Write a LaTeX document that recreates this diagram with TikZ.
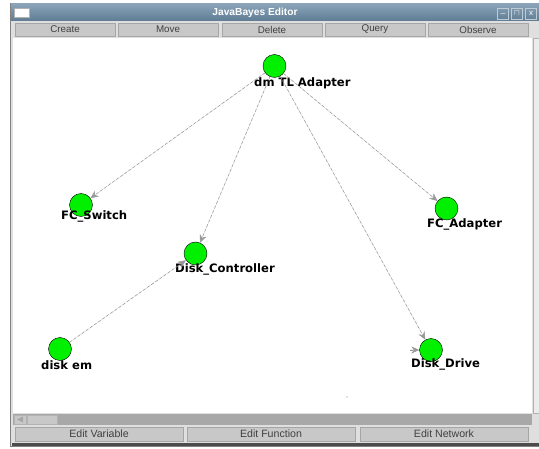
\documentclass[tikz,border=0pt]{standalone}
\usepackage{fontspec}
\setmainfont{DejaVu Sans}
\newfontfamily\guifont{Liberation Sans}
\usetikzlibrary{arrows.meta}
\definecolor{nodegreen}{HTML}{00F000}
\definecolor{titletop}{HTML}{8AA3B8}
\definecolor{titlebot}{HTML}{5E7C94}
\definecolor{btngray}{HTML}{C8C8C8}
\definecolor{bargray}{HTML}{A8A8A8}

\begin{document}
\begin{tikzpicture}[>=Stealth,x={(1pt,0pt)},y={(0pt,-1pt)},
  var/.style={circle,draw=black,fill=nodegreen,minimum size=23pt,inner sep=0pt,line width=0.4pt},
  varname/.style={anchor=west,inner sep=0pt,font=\bfseries\fontsize{11.6}{12}\selectfont},
  edge/.style={draw=gray!80,line width=0.5pt,densely dashed,-{Stealth[length=8pt,width=7pt]},fill=gray!80},
  btn/.style={draw=gray!70,fill=btngray,minimum height=13pt,inner sep=0pt,text=black!75,font=\guifont\fontsize{9.8}{10}\selectfont},
  winbtn/.style={draw=white!60!titlebot,minimum width=11pt,minimum height=11pt,inner sep=0pt,text=white,font=\guifont\fontsize{8}{8}\selectfont}]
  \useasboundingbox (0,0) rectangle (539,449);
  \clip (0,0) rectangle (539,449);
  % Window frame
  \draw[gray,fill=gray!25] (10,3) rectangle (545,446);
  \shade[top color=titletop,bottom color=titlebot] (11,4) rectangle (545,21);
  \node[draw=gray!60,fill=white,minimum width=15pt,minimum height=9pt,inner sep=0pt] (icon) at (21.5,12.5) {};
  \node[text=white,font=\guifont\bfseries\fontsize{10.2}{11}\selectfont] (title) at (255,13) {JavaBayes Editor};
  \node[winbtn] (wmin) at (503,13.5) {\_};
  \node[winbtn] (wmax) at (517,13.5) {$\sqcap$};
  \node[winbtn] (wclose) at (531,13.5) {x};
  % Toolbar
  \foreach \lbl/\cx [count=\i] in {Create/65,Move/168,Delete/272,Query/375,Observe/478}
    \node[btn,minimum width=100pt] (tool\i) at (\cx,29.5) {\lbl};
  % Canvas and scroll bars
  \fill[white] (13,38) rectangle (532,413);
  \draw[gray!60,fill=gray!15] (533,38) rectangle (545,413);
  \fill[bargray] (13,414) rectangle (532,425);
  \draw[gray!60,fill=btngray] (14,415) rectangle (26,424);
  \fill[gray!70] (17,419.5) -- (23,416.5) -- (23,422.5) -- cycle;
  \draw[gray!60,fill=btngray] (27,415) rectangle (57,424);
  % Bottom buttons
  \foreach \lbl/\cx [count=\i] in {Edit Variable/99,Edit Function/271,Edit Network/444}
    \node[btn,minimum width=168pt,minimum height=14pt,font=\guifont\fontsize{10.6}{11}\selectfont] (edit\i) at (\cx,434) {\lbl};
  \fill[black!70] (12,443) rectangle (545,446);
  % Network variables
  \node[var] (dm) at (274.5,66) {};
  \node[var] (fcsw) at (81,205) {};
  \node[var] (dctl) at (195.5,253.5) {};
  \node[var] (fcad) at (446.5,208.5) {};
  \node[var] (dem) at (60,349) {};
  \node[var] (ddrv) at (431,350) {};
  \node[varname] (dm-lbl) at (254,83) {dm TL Adapter};
  \node[varname] (fcsw-lbl) at (61,216) {FC\_Switch};
  \node[varname] (dctl-lbl) at (175,269) {Disk\_Controller};
  \node[varname] (fcad-lbl) at (427,224) {FC\_Adapter};
  \node[varname] (dem-lbl) at (41,365) {disk em};
  \node[varname] (ddrv-lbl) at (411,364) {Disk\_Drive};
  \coordinate (ddrv-in) at (410,350);
  % Arcs
  \draw[edge] (dm) -- (fcsw);
  \draw[edge] (dm) -- (dctl);
  \draw[edge] (dm) -- (fcad);
  \draw[edge] (dm) -- (ddrv);
  \draw[edge] (dem) -- (dctl);
  \draw[edge] (ddrv-in) -- (ddrv);
  \fill[gray] (347,397) circle (0.6pt);
\end{tikzpicture}
\end{document}
